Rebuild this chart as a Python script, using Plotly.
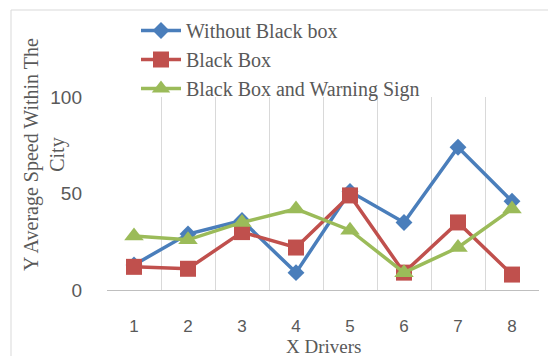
import plotly.graph_objects as go

drivers = ["1", "2", "3", "4", "5", "6", "7", "8"]
without_black_box = [13, 29, 36, 9, 51, 35, 74, 46]
black_box = [12, 11, 30, 22, 49, 9, 35, 8]
black_box_warning = [28, 26, 35, 42, 31, 9, 22, 42]
y_ticks = [0, 50, 100]

series = [
    ("Without Black box", without_black_box, "#4A7EBB", "diamond", 13),
    ("Black Box", black_box, "#C0504D", "square", 16),
    ("Black Box and Warning Sign", black_box_warning, "#9BBB59", "triangle-up", 17),
]

fig = go.Figure()
for i, (name, vals, color, sym, sz) in enumerate(series):
    fig.add_trace(go.Scatter(
        x=drivers, y=vals, name=name, mode="lines+markers",
        line=dict(color=color, width=3.5),
        marker=dict(symbol=sym, size=sz, color=color),
        legendgroup=str(i),
    ))

L, R, T, B = 107, 9, 97, 66
W, H = 548, 356
pw, ph = W - L - R, H - T - B

def px(xp):
    return (xp - L) / pw

def py(yp):
    return (H - B - yp) / ph

fig.update_layout(
    width=W, height=H,
    margin=dict(l=L, r=R, t=T, b=B),
    paper_bgcolor="white", plot_bgcolor="white",
    showlegend=True,
    legend=dict(
        x=px(136), y=py(11), xanchor="left", yanchor="top",
        font=dict(family="Liberation Serif", size=20, color="#595959"),
        bgcolor="rgba(0,0,0,0)", traceorder="grouped", tracegroupgap=0,
        itemwidth=40,
    ),
    xaxis=dict(
        type="category", range=[-0.5, 7.5], tickson="boundaries",
        showgrid=True, gridcolor="#D9D9D9", gridwidth=1,
        showline=True, linecolor="#BFBFBF", linewidth=1,
        ticks="", ticklabelstandoff=21,
        tickfont=dict(family="Liberation Sans", size=17, color="#595959"),
        zeroline=False, fixedrange=True,
    ),
    yaxis=dict(
        range=[0, 100], tickvals=y_ticks, showgrid=False, zeroline=False,
        showline=False, ticks="", ticklabelstandoff=24,
        tickfont=dict(family="Liberation Sans", size=19, color="#595959"),
        fixedrange=True,
    ),
    shapes=[dict(type="rect", xref="paper", yref="paper",
                 x0=px(11), x1=px(560), y0=py(370), y1=py(10),
                 line=dict(color="#D9D9D9", width=1), fillcolor="rgba(0,0,0,0)", layer="below")],
    annotations=[
        dict(text="Y Average Speed Within The<br>City", xref="paper", yref="paper",
             x=px(44), y=py(155), xanchor="center", yanchor="middle", textangle=-90,
             showarrow=False, font=dict(family="Liberation Serif", size=20, color="#595959")),
        dict(text="X Drivers", xref="paper", yref="paper",
             x=px(323), y=py(346), xanchor="center", yanchor="middle",
             showarrow=False, font=dict(family="Liberation Serif", size=19, color="#595959")),
    ],
)

fig.write_html("out.html", config={"displayModeBar": False},
               post_script="document.body.style.margin='0';document.body.style.overflow='hidden';")
